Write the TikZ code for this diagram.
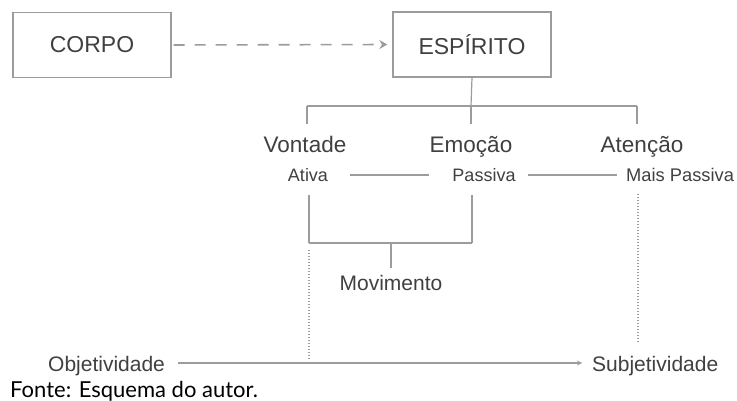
\documentclass[tikz,border=0pt]{standalone}
\usepackage{fontspec}
\setmainfont{Liberation Sans}
\newfontfamily\fontefont{Lato}
\usetikzlibrary{arrows.meta}
\definecolor{txt}{HTML}{404040}
\definecolor{ln}{HTML}{9C9C9C}
\tikzset{
  boxnode/.style={draw=ln, line width=1.3pt, minimum width=158pt, minimum height=65pt, inner sep=0pt, text=txt, font=\fontsize{23}{27}\selectfont},
  bigtxt/.style={inner sep=0pt, text=txt, font=\fontsize{22.5}{27}\selectfont, anchor=base},
  smalltxt/.style={inner sep=0pt, text=txt, font=\fontsize{18}{21}\selectfont, anchor=base},
  axistxt/.style={inner sep=0pt, text=txt, font=\fontsize{21}{25}\selectfont, anchor=base},
  conn/.style={draw=ln, line width=1.2pt},
  dotline/.style={draw=ln, line width=1.2pt, dash pattern=on 1.2pt off 1.8pt}
}
\begin{document}
\begin{tikzpicture}[x=1pt,y=-1pt]
\useasboundingbox[fill=white] (0,0) rectangle (737,401);
\node[boxnode] (corpo) at (92,45) {CORPO};
\node[boxnode] (esp) at (472,44.5) {ESPÍRITO};
\draw[conn, line width=1.6pt, dash pattern=on 11pt off 10pt, -{Stealth[length=8pt,width=9pt]}, shorten >=5pt, shorten <=2pt] (corpo.east) -- (esp.west);

\node[bigtxt] (vont) at (305,153) {Vontade};
\node[bigtxt] (emoc) at (471,153) {Emoção};
\node[bigtxt] (aten) at (642,153) {Atenção};
\node[smalltxt] (ativa) at (308,182) {Ativa};
\node[smalltxt] (pass) at (484,182) {Passiva};
\node[smalltxt, anchor=base west, font=\fontsize{18.3}{22}\selectfont] (mais) at (626,182) {Mais Passiva};
\node[axistxt] (movi) at (391,290) {Movimento};
\node[axistxt, anchor=base west] (obj) at (48,371) {Objetividade};
\node[axistxt, anchor=base west] (subj) at (592,371) {Subjetividade};
\node[inner sep=0pt, anchor=base west, font=\fontefont\fontsize{22}{26}\selectfont] (fonte) at (10,397) {Fonte: Esquema do autor.};

\coordinate (bar) at (471,106);
\coordinate (barL) at (307,106);
\coordinate (barR) at (637,106);
\coordinate (tL) at (307,124);
\coordinate (tM) at (471,124);
\coordinate (tR) at (637,124);
\draw[conn] (esp.south) -- (bar);
\draw[conn] (barL) -- (barR);
\draw[conn] (barL) -- (tL);
\draw[conn] (bar) -- (tM);
\draw[conn] (barR) -- (tR);

\draw[conn, shorten <=22pt, shorten >=23pt] (ativa.east |- 0,175) -- (pass.west |- 0,175);
\draw[conn, shorten <=12pt, shorten >=9pt] (pass.east |- 0,175) -- (mais.west |- 0,175);

\coordinate (jL) at (309,243);
\coordinate (jR) at (472,243);
\coordinate (jM) at (391,243);
\draw[conn] (309,195) coordinate (aL) -- (jL);
\draw[conn] (472,195) coordinate (aR) -- (jR);
\draw[conn] (jL) -- (jR);
\draw[conn] (jM) -- (391,268) coordinate (mTop);
\draw[dotline] (309,250) coordinate (dL) -- (309,360) coordinate (dLe);
\draw[dotline] (638,194) coordinate (dR) -- (638,342) coordinate (dRe);

\draw[conn, -{Stealth[length=5pt,width=5pt]}, shorten <=13pt, shorten >=10pt] (obj.east |- 0,363) -- (subj.west |- 0,363);
\end{tikzpicture}
\end{document}
